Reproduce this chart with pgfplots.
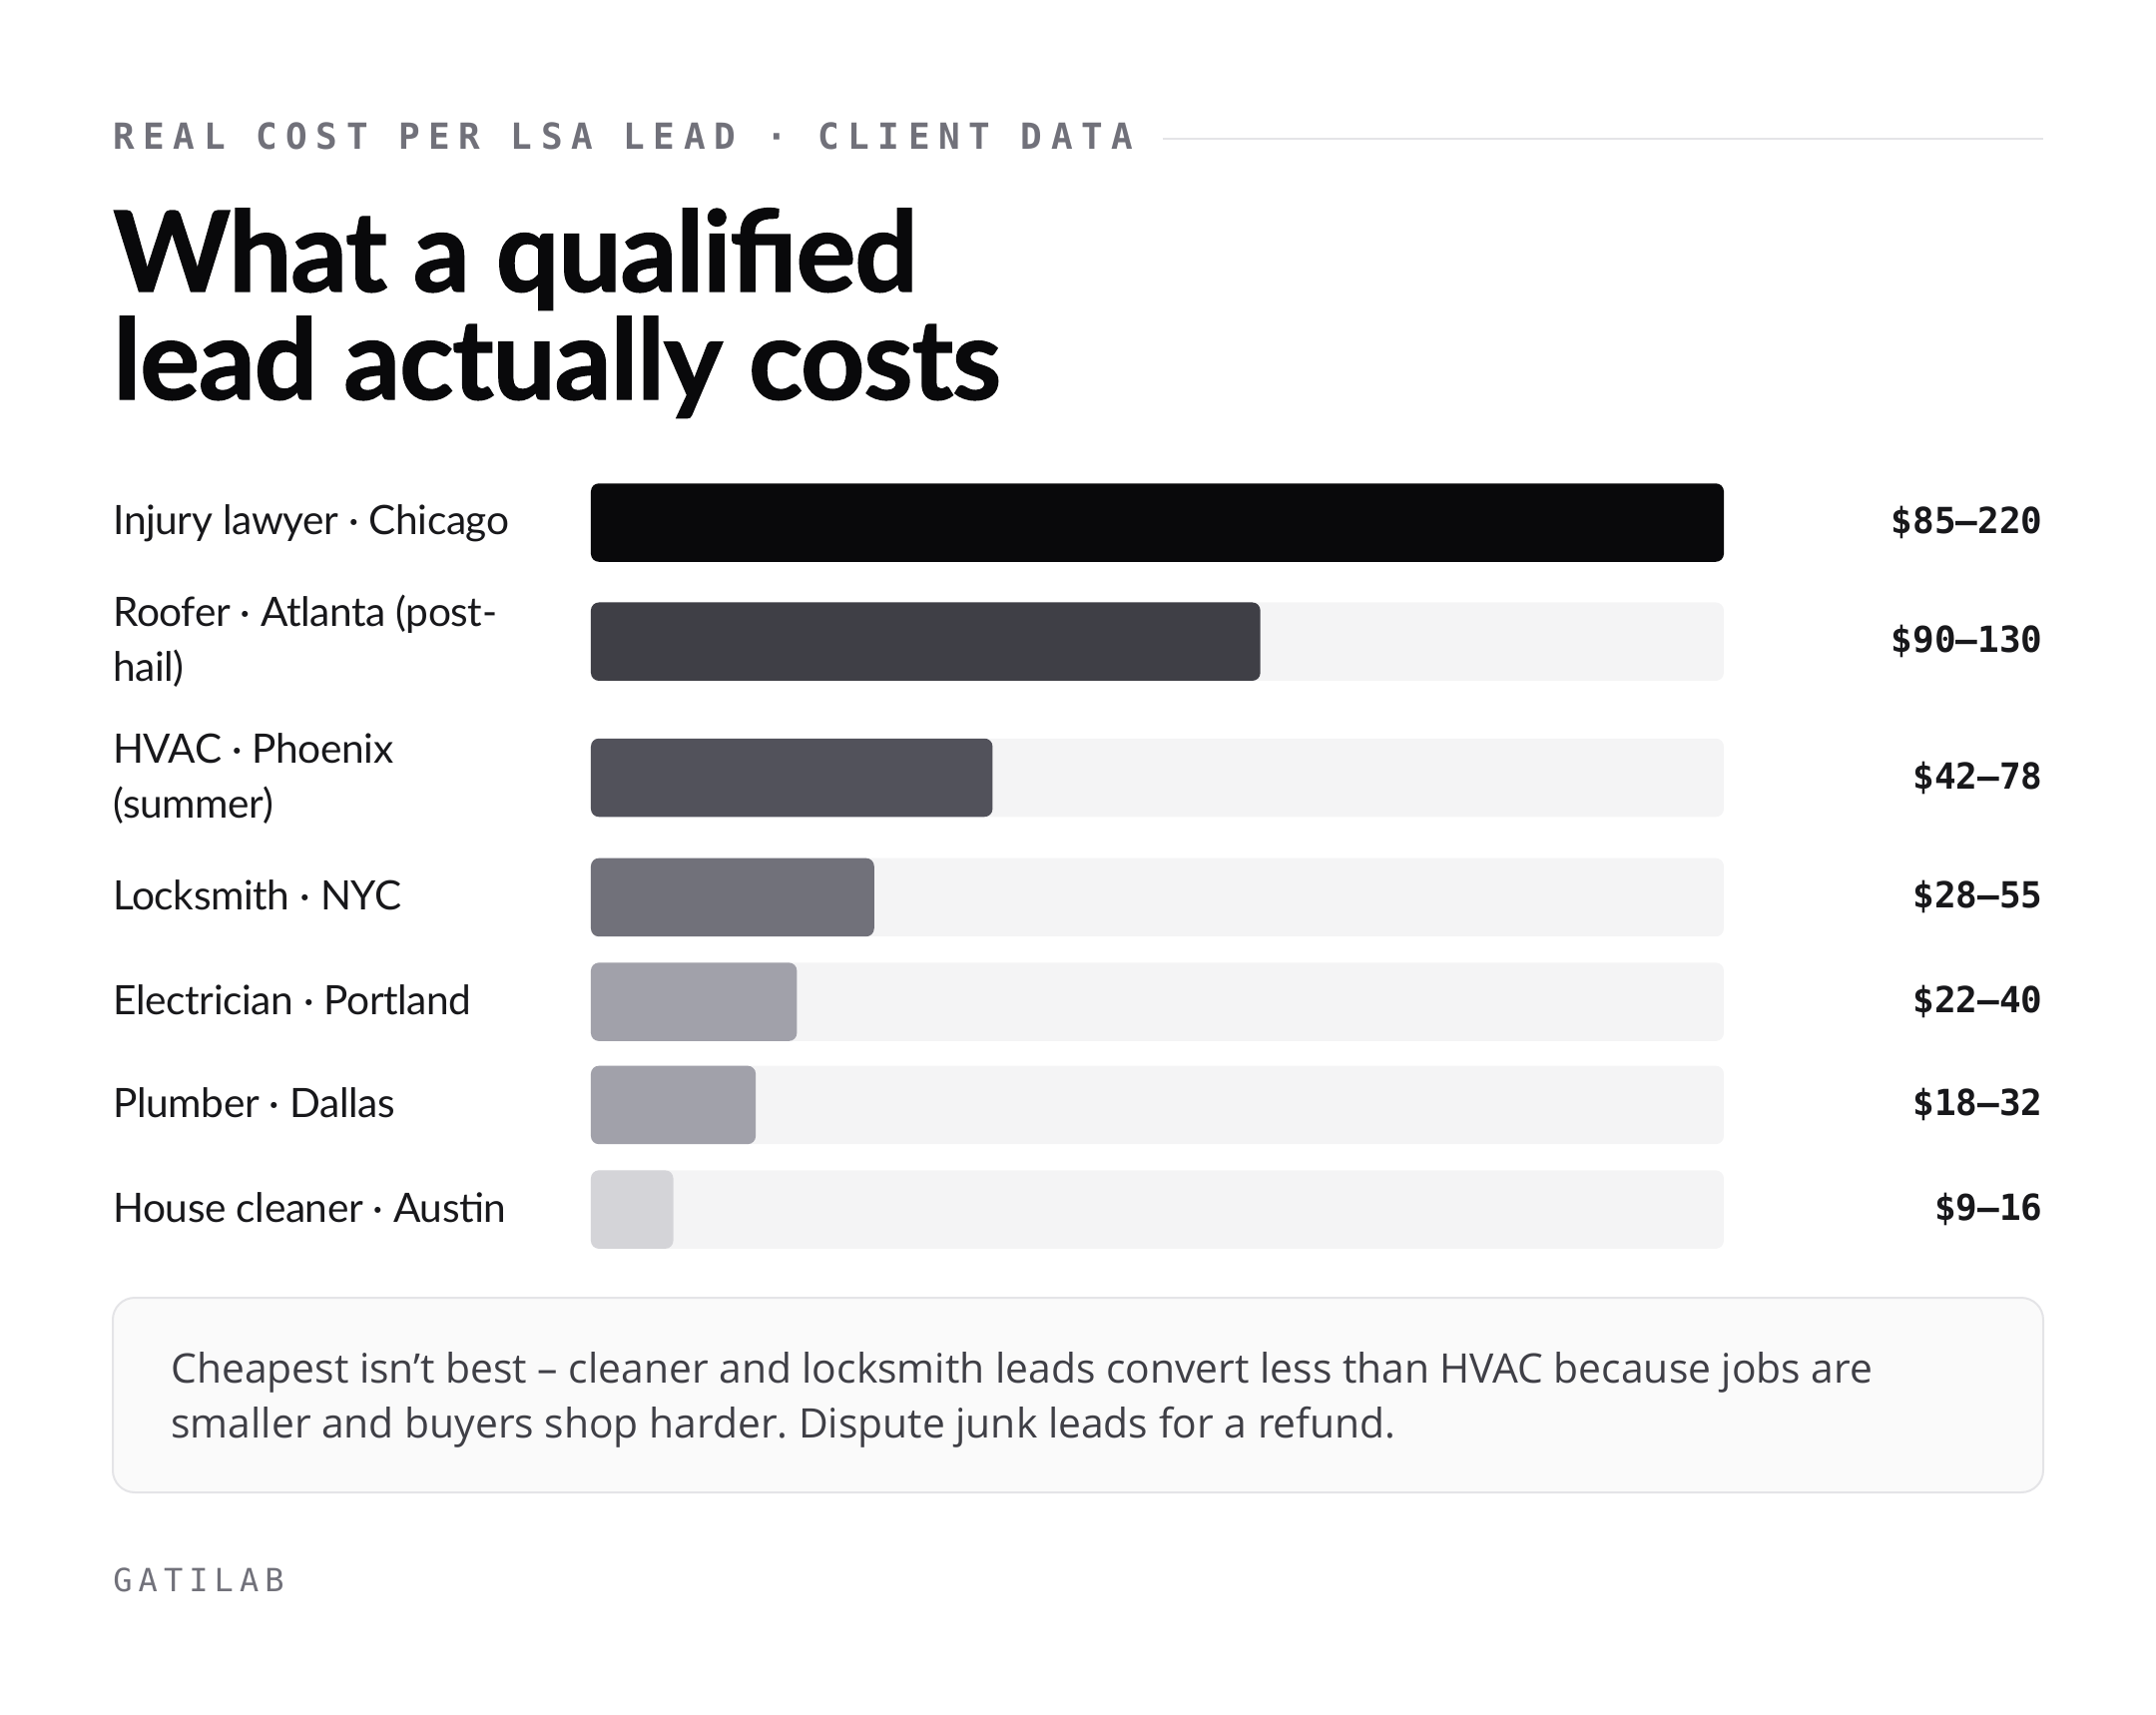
\documentclass[border=0pt]{standalone}
\usepackage{fontspec}
\usepackage{pgfplots}
\pgfplotsset{compat=1.18}
\setmainfont{Lato}
\frenchspacing
\newfontfamily\titlefont[LetterSpace=-1, FakeBold=1.2]{Lato}
\newfontfamily\labelfont[LetterSpace=-1]{Lato}
\newfontfamily\capfont{Open Sans}
\newfontfamily\kickerfont[LetterSpace=24]{DejaVu Sans Mono}
\newfontfamily\footfont[LetterSpace=19]{DejaVu Sans Mono}
\newfontfamily\monofont{DejaVu Sans Mono}

\definecolor{zinc950}{HTML}{09090B}
\definecolor{zinc900}{HTML}{18181B}
\definecolor{zinc700}{HTML}{3F3F46}
\definecolor{zinc600}{HTML}{52525B}
\definecolor{zinc500}{HTML}{71717A}
\definecolor{zinc400}{HTML}{A1A1AA}
\definecolor{zinc300}{HTML}{D4D4D8}
\definecolor{zinc200}{HTML}{E4E4E7}
\definecolor{zinc100}{HTML}{F4F4F5}
\definecolor{zinc50}{HTML}{FAFAFA}

% row centres (px from top) of the seven categories
\def\rA{523.5}\def\rB{642.7}\def\rC{779.0}\def\rD{898.9}
\def\rE{1003.6}\def\rF{1106.9}\def\rG{1211.6}

\begin{document}
\begin{tikzpicture}
% page frame
\path (0,0) rectangle (1080pt,-859pt);

% kicker line
\node[anchor=base west, inner sep=0pt, text=zinc500] at (56.5pt,-75pt)
  {\fontsize{18}{20}\kickerfont\bfseries REAL COST PER LSA LEAD · CLIENT DATA};
\draw[zinc200, line width=1pt] (582.5pt,-69.5pt) -- (1023.5pt,-69.5pt);

% title
\node[anchor=base west, inner sep=0pt, text=zinc950] at (56.5pt,-146pt)
  {\fontsize{56}{60}\titlefont\bfseries What a qualified};
\node[anchor=base west, inner sep=0pt, text=zinc950] at (56.5pt,-200pt)
  {\fontsize{56}{60}\titlefont\bfseries lead actually costs};

\begin{axis}[
  at={(296pt,-220pt)}, anchor=north west,
  scale only axis, width=567.5pt, height=425pt,
  xmin=0, xmax=220, ymin=440, ymax=1290, y dir=reverse,
  axis lines=none, clip=false,
  xbar,
  every axis plot/.append style={bar shift=0pt, bar width=39.25pt,
    draw=none, rounded corners=4pt},
]
% tracks (full scale = $220)
\addplot[fill=zinc100] coordinates {(220,\rA) (220,\rB) (220,\rC) (220,\rD) (220,\rE) (220,\rF) (220,\rG)};
% upper end of each cost range
\addplot[fill=zinc950] coordinates {(220,\rA)};
\addplot[fill=zinc700] coordinates {(130,\rB)};
\addplot[fill=zinc600] coordinates {(78,\rC)};
\addplot[fill=zinc500] coordinates {(55,\rD)};
\addplot[fill=zinc400] coordinates {(40,\rE)};
\addplot[fill=zinc400] coordinates {(32,\rF)};
\addplot[fill=zinc300] coordinates {(16,\rG)};

% category names
\begin{scope}[every node/.style={anchor=base west, inner sep=0pt, text=zinc900,
    font=\fontsize{20.3}{24}\labelfont}]
\node at (axis cs:-92.85,\rA+12.4) {Injury lawyer · Chicago};
\node at (axis cs:-92.85,\rB-15) {Roofer · Atlanta (post-};
\node at (axis cs:-92.85,\rB+40) {hail)};
\node at (axis cs:-92.85,\rC-15) {HVAC · Phoenix};
\node at (axis cs:-92.85,\rC+40) {(summer)};
\node at (axis cs:-92.85,\rD+12.4) {Locksmith · NYC};
\node at (axis cs:-92.85,\rE+12.4) {Electrician · Portland};
\node at (axis cs:-92.85,\rF+12.4) {Plumber · Dallas};
\node at (axis cs:-92.85,\rG+12.4) {House cleaner · Austin};
\end{scope}

% cost ranges
\begin{scope}[every node/.style={anchor=base east, inner sep=0pt, text=zinc900,
    font=\fontsize{18}{20}\monofont\bfseries}]
\node at (axis cs:282.03,\rA+11) {\$85–220};
\node at (axis cs:282.03,\rB+11) {\$90–130};
\node at (axis cs:282.03,\rC+11) {\$42–78};
\node at (axis cs:282.03,\rD+11) {\$28–55};
\node at (axis cs:282.03,\rE+11) {\$22–40};
\node at (axis cs:282.03,\rF+11) {\$18–32};
\node at (axis cs:282.03,\rG+11) {\$9–16};
\end{scope}
\end{axis}

% note box
\draw[draw=zinc200, fill=zinc50, line width=1pt, rounded corners=11pt]
  (56.5pt,-650pt) rectangle (1023.5pt,-747.5pt);
\node[anchor=base west, inner sep=0pt, text=zinc700] at (85.5pt,-692.5pt)
  {\fontsize{20.4}{24}\capfont Cheapest isn’t best – cleaner and locksmith leads convert less than HVAC because jobs are};
\node[anchor=base west, inner sep=0pt, text=zinc700] at (85.5pt,-720pt)
  {\fontsize{20.4}{24}\capfont smaller and buyers shop harder. Dispute junk leads for a refund.};

% footer
\node[anchor=base west, inner sep=0pt, text=zinc500] at (56.5pt,-797pt)
  {\fontsize{16}{18}\footfont GATILAB};
\end{tikzpicture}
\end{document}
